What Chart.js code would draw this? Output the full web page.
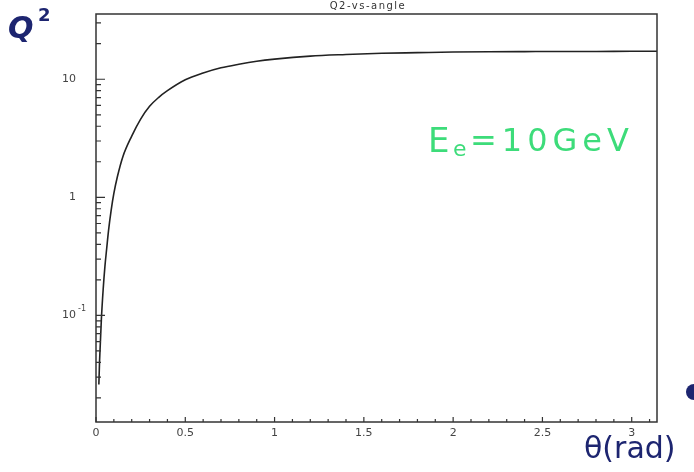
<!DOCTYPE html>
<html>
<head>
<meta charset="utf-8">
<script src="https://cdn.jsdelivr.net/npm/chart.js@4/dist/chart.umd.min.js"></script>
<style>
  body { margin: 0; background: #fff; }
  #wrap { width: 694px; height: 472px; }
</style>
</head>
<body>
<div id="wrap"><canvas id="q2Chart" width="694" height="472"></canvas></div>
<script>
// scattering angle (rad) and Q^2
var theta = [0.016, 0.02, 0.03, 0.04, 0.05, 0.06, 0.07, 0.085, 0.1, 0.12, 0.15, 0.2, 0.25, 0.3, 0.35, 0.4,
             0.5, 0.6, 0.7, 0.8, 0.9, 1.0, 1.2, 1.4, 1.6, 1.8, 2.0, 2.2, 2.4, 2.6, 2.8, 3.0, 3.1416];
var q2 = [0.026, 0.041, 0.092, 0.165, 0.26, 0.37, 0.52, 0.78, 1.08, 1.5, 2.2, 3.3, 4.6, 5.9, 7.0, 8.0,
          9.9, 11.3, 12.5, 13.4, 14.2, 14.8, 15.7, 16.2, 16.6, 16.8, 17.0, 17.1, 17.15, 17.2, 17.2, 17.25, 17.25];

// axis ticks
var xTickValues = [0, 0.5, 1, 1.5, 2, 2.5, 3];
var xMinorTicks = [0.1, 0.2, 0.3, 0.4, 0.6, 0.7, 0.8, 0.9, 1.1, 1.2, 1.3, 1.4, 1.6, 1.7, 1.8, 1.9,
                   2.1, 2.2, 2.3, 2.4, 2.6, 2.7, 2.8, 2.9, 3.1];
var yMajorTicks = [0.1, 1, 10];
var yMinorTicks = [0.02, 0.03, 0.04, 0.05, 0.06, 0.07, 0.08, 0.09,
                   0.2, 0.3, 0.4, 0.5, 0.6, 0.7, 0.8, 0.9,
                   2, 3, 4, 5, 6, 7, 8, 9, 20, 30];
var yTickLabels = ['10', '1', '10'];
var yTickSuper = ['-1', '', ''];

var points = theta.map(function (t, i) { return { x: t, y: q2[i] }; });

// frame, inside tick marks, y labels and the hand-written notes
var framePlugin = {
    id: 'frame',
    afterDraw: function (chart) {
        var ctx = chart.ctx;
        var a = chart.chartArea;
        var xs = chart.scales.x, ys = chart.scales.y;
        ctx.save();
        ctx.strokeStyle = '#333';
        ctx.lineWidth = 1.5;
        ctx.strokeRect(a.left, a.top, a.right - a.left, a.bottom - a.top);

        ctx.lineWidth = 1.2;
        ctx.beginPath();
        yMajorTicks.forEach(function (v) {
            var py = ys.getPixelForValue(v);
            ctx.moveTo(a.left, py); ctx.lineTo(a.left + 9, py);
        });
        yMinorTicks.forEach(function (v) {
            var py = ys.getPixelForValue(v);
            ctx.moveTo(a.left, py); ctx.lineTo(a.left + 5, py);
        });
        xTickValues.forEach(function (v) {
            var px = xs.getPixelForValue(v);
            ctx.moveTo(px, a.bottom); ctx.lineTo(px, a.bottom - 5);
        });
        xMinorTicks.forEach(function (v) {
            var px = xs.getPixelForValue(v);
            ctx.moveTo(px, a.bottom); ctx.lineTo(px, a.bottom - 3);
        });
        ctx.stroke();

        // y labels
        ctx.fillStyle = '#444';
        ctx.textBaseline = 'middle';
        yMajorTicks.forEach(function (v, i) {
            var py = ys.getPixelForValue(v);
            ctx.font = '11px "DejaVu Sans"';
            ctx.textAlign = 'right';
            ctx.fillText(yTickLabels[i], 76, py);
            if (yTickSuper[i]) {
                ctx.font = '8px "DejaVu Sans"';
                ctx.textAlign = 'left';
                ctx.fillText(yTickSuper[i], 78, py - 6);
            }
        });

        // title
        ctx.font = '10px "DejaVu Sans"';
        ctx.textAlign = 'center';
        ctx.letterSpacing = '1.5px';
        ctx.fillStyle = '#333';
        ctx.fillText('Q2-vs-angle', 368, 6);
        ctx.letterSpacing = '0px';

        // hand-written annotations
        ctx.fillStyle = '#1d2570';
        ctx.font = 'bold italic 30px "DejaVu Sans"';
        ctx.textAlign = 'left';
        ctx.fillText('Q', 8, 30);
        ctx.font = 'bold 18px "DejaVu Sans"';
        ctx.fillText('2', 38, 16);

        ctx.font = '30px "DejaVu Sans"';
        ctx.fillText('\u03b8(rad)', 584, 450);

        ctx.beginPath();
        ctx.arc(694, 392, 8, 0, Math.PI * 2);
        ctx.fill();

        ctx.fillStyle = '#3ddc7a';
        ctx.font = '34px "DejaVu Sans"';
        ctx.fillText('E', 428, 143);
        ctx.font = '22px "DejaVu Sans"';
        ctx.fillText('e', 453, 150);
        ctx.font = '32px "DejaVu Sans"';
        ctx.letterSpacing = '5px';
        ctx.fillText('=10GeV', 470, 143);
        ctx.letterSpacing = '0px';
        ctx.restore();
    }
};

var chartCanvas = document.getElementById('q2Chart').getContext('2d');
new Chart(chartCanvas, {
    type: 'line',
    data: {
        datasets: [{
            label: 'Q2-vs-angle',
            data: points,
            borderColor: '#222',
            borderWidth: 1.6,
            pointRadius: 0,
            fill: false,
            cubicInterpolationMode: 'monotone'
        }]
    },
    options: {
        responsive: false,
        animation: false,
        devicePixelRatio: 1,
        layout: { padding: { left: 96, right: 37, top: 14, bottom: 0 } },
        plugins: {
            legend: { display: false },
            tooltip: { enabled: false }
        },
        scales: {
            x: {
                type: 'linear',
                min: 0,
                max: 3.1416,
                grid: { display: false, drawTicks: false },
                border: { display: false },
                ticks: {
                    color: '#444',
                    font: { family: 'DejaVu Sans', size: 11 },
                    padding: 5,
                    maxRotation: 0,
                    callback: function (v) { return String(v); }
                },
                afterBuildTicks: function (scale) {
                    scale.ticks = xTickValues.map(function (v) { return { value: v }; });
                },
                afterFit: function (scale) { scale.height = 50; }
            },
            y: {
                type: 'logarithmic',
                display: false,
                min: 0.0125,
                max: 35.7
            }
        }
    },
    plugins: [framePlugin]
});
</script>
</body>
</html>
